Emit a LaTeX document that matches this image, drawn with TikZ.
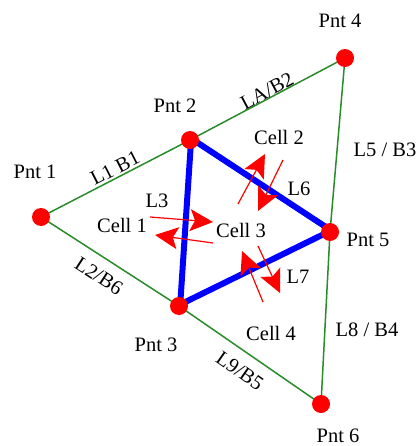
\documentclass[tikz,border=0pt]{standalone}
\usepackage{fontspec}
\setmainfont{Liberation Serif}
\usetikzlibrary{arrows.meta,backgrounds}
\definecolor{edgegreen}{RGB}{40,140,40}
\definecolor{cellblue}{RGB}{0,0,255}
\definecolor{arrred}{RGB}{255,0,0}
\begin{document}
\begin{tikzpicture}[x=1pt,y=-1pt,
 pnt/.style={circle,fill=arrred,minimum size=18pt,inner sep=0pt},
 lbl/.style={font=\fontsize{20.5}{24}\selectfont,inner sep=0pt},
 outeredge/.style={draw=edgegreen,line width=1.5pt},
 inneredge/.style={draw=cellblue,line width=6pt},
 flux/.style={draw=arrred,line width=1.2pt,-{Stealth[length=23pt,width=22pt,inset=5pt]}}]
\useasboundingbox (0,0) rectangle (419,446);
% points
\node[pnt] (p1) at (41,217) {};
\node[pnt] (p2) at (190,140) {};
\node[pnt] (p3) at (179,306) {};
\node[pnt] (p4) at (345,58) {};
\node[pnt] (p5) at (330,232) {};
\node[pnt] (p6) at (321,404) {};
\begin{pgfonlayer}{background}
\draw[outeredge] (p1.center) -- (p2.center) -- (p4.center) -- (p5.center) -- (p6.center) -- (p3.center) -- (p1.center);
\draw[outeredge] (p2.center) -- (p3.center) -- (p5.center) -- (p2.center);
\draw[inneredge] ([xshift=1.2pt,yshift=1.5pt]p2.center) -- ([xshift=1.2pt,yshift=1.5pt]p3.center) -- ([xshift=1.2pt,yshift=1.5pt]p5.center) -- cycle;
\end{pgfonlayer}
% point labels
\node[lbl] (t1) at (35,172) {Pnt 1};
\node[lbl] (t2) at (175,106) {Pnt 2};
\node[lbl] (t3) at (156,345) {Pnt 3};
\node[lbl] (t4) at (340,21) {Pnt 4};
\node[lbl] (t5) at (368,240) {Pnt 5};
\node[lbl] (t6) at (338,436) {Pnt 6};
% edge labels
\node[lbl,rotate=28] (e24) at (267,91) {LA/B2};
\node[lbl,rotate=27] (e12) at (115,168) {L1 B1};
\node[lbl,rotate=-33] (e13) at (99,276) {L2/B6};
\node[lbl,rotate=-35] (e36) at (240,371) {L9/B5};
\node[lbl] (e45) at (385,150) {L5 / B3};
\node[lbl] (e56) at (367,330) {L8 / B4};
\node[lbl] (e25) at (299,189) {L6};
\node[lbl] (e23) at (157,201) {L3};
\node[lbl] (e35) at (298,277) {L7};
% cell labels
\node[lbl] (c1) at (122,225) {Cell 1};
\node[lbl] (c2) at (279,137) {Cell 2};
\node[lbl] (c3) at (241,230) {Cell 3};
\node[lbl] (c4) at (271,333) {Cell 4};
% flux arrows
\coordinate (a1s) at (150,217); \coordinate (a1e) at (213,222);
\coordinate (a2s) at (213,243); \coordinate (a2e) at (155,235);
\coordinate (a3s) at (238,204); \coordinate (a3e) at (265,154);
\coordinate (a4s) at (283,160); \coordinate (a4e) at (258,211);
\coordinate (a5s) at (263,302); \coordinate (a5e) at (242,251);
\coordinate (a6s) at (258,246); \coordinate (a6e) at (280,293);
\draw[flux] (a1s) -- (a1e);
\draw[flux] (a2s) -- (a2e);
\draw[flux] (a3s) -- (a3e);
\draw[flux] (a4s) -- (a4e);
\draw[flux] (a5s) -- (a5e);
\draw[flux] (a6s) -- (a6e);
\end{tikzpicture}
\end{document}
